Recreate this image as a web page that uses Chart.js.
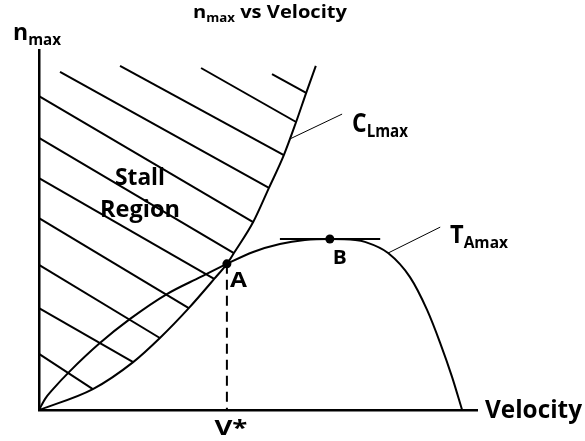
<!DOCTYPE html>
<html><head><meta charset="utf-8">
<script src="https://cdn.jsdelivr.net/npm/chart.js@4.4.1/dist/chart.umd.min.js"></script>
<style>html,body{margin:0;padding:0;background:#fff;overflow:hidden;} canvas{display:block;}</style>
</head><body>
<canvas id="c" width="585" height="441"></canvas>
<script>
// C_Lmax (stall boundary) curve
const velocityCL = [0, 12.3, 21.5, 27.6, 34.2, 40.0, 42.9, 44.5, 48.9, 52.5, 55.9, 58.7, 61.0, 63.2];
const nCL        = [0, 5.8, 13.3, 20.0, 28.3, 36.4, 40.6, 43.6, 52.2, 61.7, 70.8, 80.0, 88.1, 95.6];
// T_Amax (thrust limit) curve
const velocityTA = [0, 1.4, 3.2, 6.9, 13.9, 20.8, 29.2, 36.8, 42.9, 48.9, 55.0, 60.7, 66.4, 72.2, 74.4, 79.7, 84.7, 88.6, 91.6, 94.3, 96.6];
const nTA        = [0, 3.1, 5.8, 10.6, 18.6, 25.3, 32.2, 36.9, 40.6, 43.9, 46.1, 47.2, 47.5, 47.2, 46.7, 43.6, 36.9, 27.8, 18.6, 9.2, 0];
// Key points
const pointA = [42.9, 40.6];
const pointB = [66.4, 47.5];
// Tangent at B
const tangentV = [55.0, 77.9];
const tangentN = [47.5, 47.5];
// Stall-region hatch lines
const hatchStartV = [53.2, 37.0, 18.5, 4.8, 0, 0, 0, 0, 0, 0, 0];
const hatchStartN = [93.3, 95.0, 95.6, 93.9, 87.2, 75.6, 64.4, 53.3, 40.3, 28.3, 15.6];
const hatchEndV   = [61.0, 58.7, 55.9, 52.5, 48.9, 44.5, 40.0, 34.2, 27.6, 21.5, 12.3];
const hatchEndN   = [88.1, 80.0, 70.8, 61.7, 52.2, 43.6, 36.4, 28.3, 20.0, 13.3, 5.8];
// Leader lines for curve labels
const leaderCLV = [57.3, 69.2], leaderCLN = [75.3, 82.2];
const leaderTAV = [79.7, 91.6], leaderTAN = [43.6, 50.8];

const zip = (xs, ys) => xs.map((x, i) => ({x, y: ys[i]}));
const BLACK = '#000';
const datasets = [];
datasets.push({data: zip(velocityCL, nCL), borderColor: BLACK, borderWidth: 2, pointRadius: 0, cubicInterpolationMode: 'monotone', clip: false});
datasets.push({data: zip(velocityTA, nTA), borderColor: BLACK, borderWidth: 2, pointRadius: 0, cubicInterpolationMode: 'monotone', clip: false});
for (let i = 0; i < hatchStartV.length; i++) {
  datasets.push({data: [{x: hatchStartV[i], y: hatchStartN[i]}, {x: hatchEndV[i], y: hatchEndN[i]}], borderColor: BLACK, borderWidth: 2, pointRadius: 0, tension: 0, clip: false});
}
datasets.push({data: zip(tangentV, tangentN), borderColor: BLACK, borderWidth: 2, pointRadius: 0, clip: false});
datasets.push({data: zip(leaderCLV, leaderCLN), borderColor: BLACK, borderWidth: 1, pointRadius: 0, clip: false});
datasets.push({data: zip(leaderTAV, leaderTAN), borderColor: BLACK, borderWidth: 1, pointRadius: 0, clip: false});
datasets.push({data: [{x: pointA[0], y: pointA[1]}, {x: pointA[0], y: 0}], borderColor: BLACK, borderWidth: 2, borderDash: [10, 6], pointRadius: 0, clip: false});
datasets.push({data: [{x: pointA[0], y: pointA[1]}, {x: pointB[0], y: pointB[1]}], showLine: false, pointRadius: 4.5, pointBackgroundColor: BLACK, pointBorderColor: BLACK, pointBorderWidth: 0, clip: false});

const FONT = '"Open Sans", Lato, sans-serif';
// Draw text made of [text, isSub] parts at font `size`, squeezed horizontally to span `width` px.
function drawFit(ctx, parts, x, y, size, width, align, subRatio = 0.66, dropRatio = 0.2) {
  let total = 0;
  for (const [t, sub] of parts) {
    ctx.font = `bold ${sub ? size * subRatio : size}px ${FONT}`;
    total += ctx.measureText(t).width;
  }
  const k = width / total;
  const x0 = align === 'center' ? x - width / 2 : x;
  ctx.save();
  ctx.translate(x0, y);
  ctx.scale(k, 1);
  ctx.textAlign = 'left';
  ctx.textBaseline = 'alphabetic';
  let cx = 0;
  for (const [t, sub] of parts) {
    ctx.font = `bold ${sub ? size * subRatio : size}px ${FONT}`;
    ctx.fillText(t, cx, sub ? size * dropRatio : 0);
    cx += ctx.measureText(t).width;
  }
  ctx.restore();
}

const labels = {
  id: 'labels',
  afterDraw(chart) {
    const ctx = chart.ctx;
    const xs = chart.scales.x, ys = chart.scales.y;
    const ax = xs.getPixelForValue(pointA[0]), ay = ys.getPixelForValue(pointA[1]);
    const bx = xs.getPixelForValue(pointB[0]), by = ys.getPixelForValue(pointB[1]);
    ctx.save();
    ctx.fillStyle = BLACK;
    drawFit(ctx, [['n', false], ['max', true], [' vs Velocity', false]], 193, 18, 18, 154, 'left');
    drawFit(ctx, [['n', false], ['max', true]], 13, 40, 23, 48, 'left');
    drawFit(ctx, [['Velocity', false]], xs.right + 8, ys.bottom + 8, 25, 97, 'left');
    drawFit(ctx, [['Stall', false]], 140, 185, 24, 50, 'center');
    drawFit(ctx, [['Region', false]], 140, 217, 24, 80, 'center');
    drawFit(ctx, [['A', false]], ax + 3, ay + 23, 21, 17, 'left');
    drawFit(ctx, [['B', false]], bx + 3, by + 25, 20, 14, 'left');
    drawFit(ctx, [['V*', false]], ax + 4, ys.bottom + 25, 22, 33, 'center');
    drawFit(ctx, [['C', false], ['Lmax', true]], 352, 132, 26, 56, 'left');
    drawFit(ctx, [['T', false], ['Amax', true]], 450, 243, 25, 58, 'left');
    ctx.restore();
  }
};

new Chart(document.getElementById('c'), {
  type: 'line',
  data: {datasets},
  options: {
    responsive: false,
    animation: false,
    devicePixelRatio: 1,
    layout: {padding: {left: 39, right: 108, top: 50, bottom: 31}},
    plugins: {legend: {display: false}, tooltip: {enabled: false}, title: {display: false}},
    scales: {
      x: {type: 'linear', min: 0, max: 100, grid: {display: false}, ticks: {display: false},
          border: {display: true, color: BLACK, width: 2.5}, afterFit: s => { s.height = 0; }},
      y: {type: 'linear', min: 0, max: 100, grid: {display: false}, ticks: {display: false},
          border: {display: true, color: BLACK, width: 2.5}, afterFit: s => { s.width = 0; }}
    }
  },
  plugins: [labels]
});
</script>
</body></html>
